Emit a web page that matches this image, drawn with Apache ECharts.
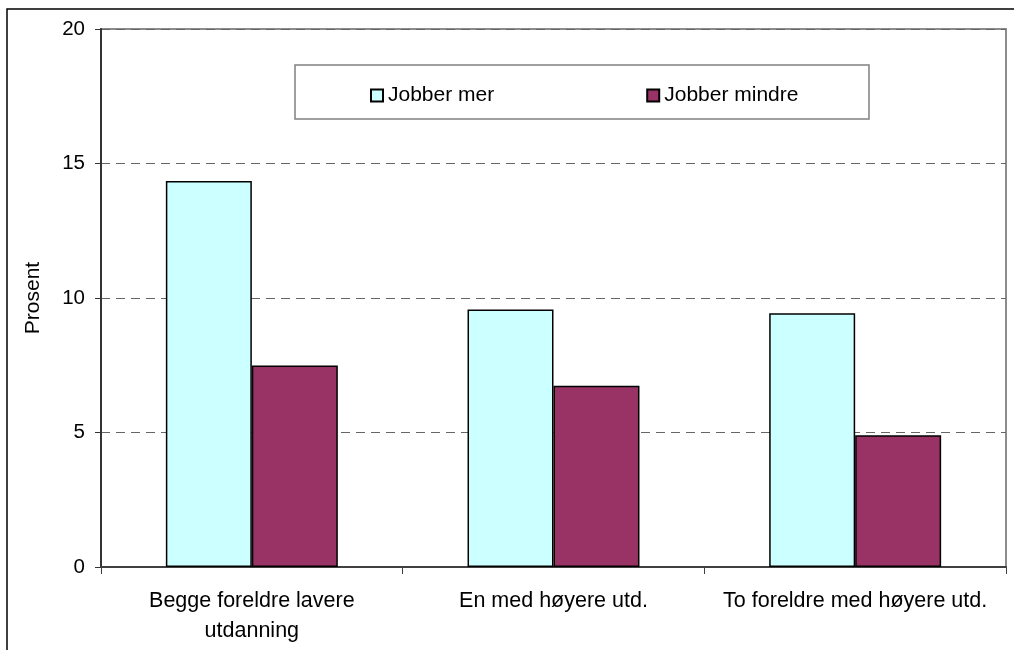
<!DOCTYPE html>
<html>
<head>
<meta charset="utf-8">
<script src="https://cdn.jsdelivr.net/npm/echarts@6/dist/echarts.min.js"></script>
<style>
html,body{margin:0;padding:0;background:#fff;}
#chart{width:1014px;height:650px;}
</style>
</head>
<body>
<div id="chart"></div>
<script>
const categories = ['Begge foreldre lavere\nutdanning', 'En med høyere utd.', 'To foreldre med høyere utd.'];
const seriesNames = ['Jobber mer', 'Jobber mindre'];
const jobberMer = [14.35, 9.57, 9.43];
const jobberMindre = [7.49, 6.74, 4.9];
const yTicks = [0, 5, 10, 15, 20];

const chart = echarts.init(document.getElementById('chart'), null, {renderer: 'canvas'});
const font = 'Arial, "Liberation Sans", sans-serif';
chart.setOption({
  animation: false,
  backgroundColor: '#fff',
  textStyle: {fontFamily: font},
  graphic: [
    {type: 'rect', shape: {x: 7, y: 9, width: 1020, height: 700}, style: {fill: 'none', stroke: '#000', lineWidth: 1.5}, z: 0},
    {type: 'rect', shape: {x: 295, y: 65, width: 574, height: 54}, style: {fill: '#fff', stroke: '#808080', lineWidth: 1.5}, z: 5}
  ],
  grid: {left: 101, top: 29, right: 8, bottom: 83, show: true, borderColor: '#8c8c8c', borderWidth: 2, backgroundColor: '#fff'},
  legend: {
    left: 365, top: 80, itemWidth: 12, itemHeight: 12, itemGap: 152, z: 10,
    icon: 'rect',
    textStyle: {fontSize: 21, color: '#000', fontFamily: font},
    data: seriesNames
  },
  xAxis: {
    type: 'category', data: categories,
    axisLine: {lineStyle: {color: '#404040', width: 2}},
    axisTick: {show: true, length: 7, lineStyle: {color: '#404040', width: 1}},
    axisLabel: {fontSize: 21.5, color: '#000', margin: 19, lineHeight: 30, interval: 0, fontFamily: font}
  },
  yAxis: {
    type: 'value', min: 0, max: 20, interval: 5,
    name: 'Prosent', nameLocation: 'middle', nameGap: 57, nameRotate: 90,
    nameTextStyle: {fontSize: 21, color: '#000', fontFamily: font},
    axisLine: {show: true, lineStyle: {color: '#333', width: 2}},
    axisTick: {show: true, length: 6, lineStyle: {color: '#333', width: 1}},
    axisLabel: {fontSize: 20.5, color: '#000', margin: 16, fontFamily: font,
      formatter: v => yTicks.includes(v) ? String(v) : ''},
    splitLine: {show: true, lineStyle: {color: '#666', type: [9, 6], width: 1}}
  },
  series: [
    {name: seriesNames[0], type: 'bar', data: jobberMer, barGap: '0%', barCategoryGap: '43%',
      itemStyle: {color: '#CCFFFF', borderColor: '#000', borderWidth: 1.5}},
    {name: seriesNames[1], type: 'bar', data: jobberMindre, barGap: '0%', barCategoryGap: '43%',
      itemStyle: {color: '#993366', borderColor: '#000', borderWidth: 1.5}}
  ]
});
</script>
</body>
</html>
